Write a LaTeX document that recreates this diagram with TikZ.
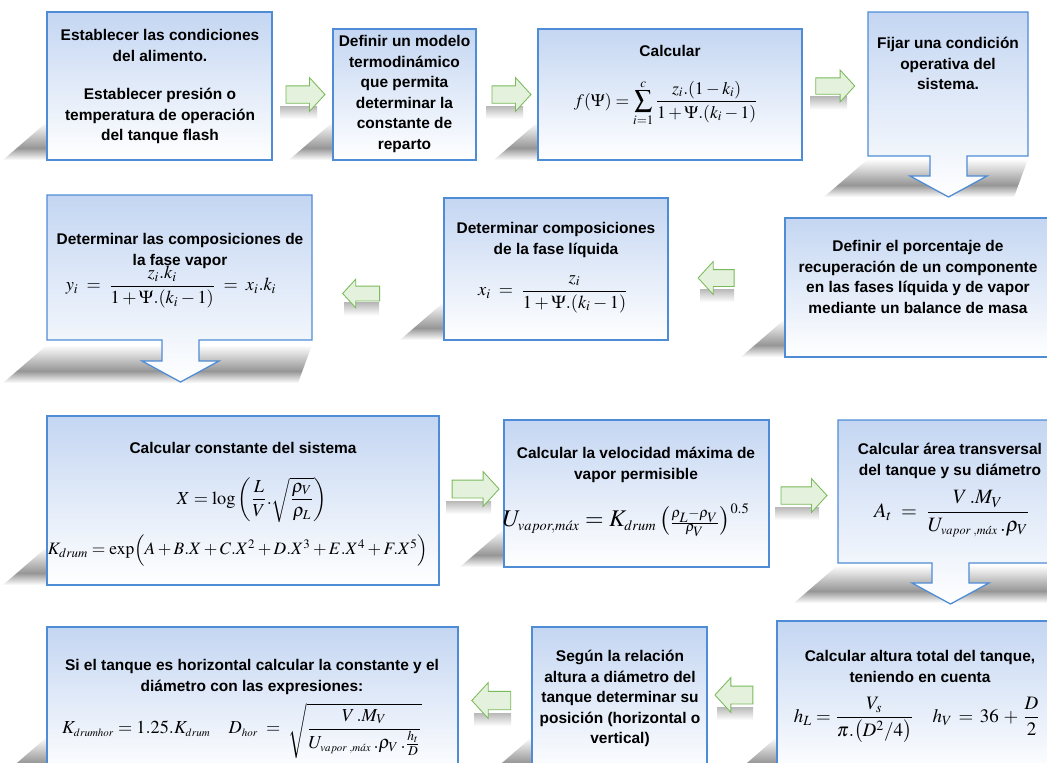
\documentclass[tikz,border=0pt]{standalone}
\usepackage{mathptmx}
\usepackage[no-math]{fontspec}
\setmainfont{Liberation Sans}
\usetikzlibrary{shapes.arrows}
\definecolor{BoxBlue}{RGB}{196,214,242}
\definecolor{BoxLine}{RGB}{79,140,214}
\definecolor{ArrowGreen}{RGB}{228,241,220}
\definecolor{ArrowLine}{RGB}{122,186,90}
\definecolor{ShadowGray}{RGB}{150,150,150}

\tikzset{
  procbox/.style={draw=BoxLine,line width=0.9pt,top color=BoxBlue,bottom color=white,inner sep=0pt},
  callout/.style={draw=BoxLine,line width=0.9pt,top color=BoxBlue,bottom color=white},
  shadowup/.style={top color=white,bottom color=ShadowGray},
  shadowdown/.style={top color=ShadowGray,bottom color=white},
  arrowshadow/.style={top color=black!28,bottom color=white},
  flowarrow/.style={single arrow,draw=ArrowLine,fill=ArrowGreen,line width=0.6pt,
    inner xsep=0pt,single arrow tip angle=95,single arrow head indent=0pt},
  proctext/.style={font=\fontsize{11}{14.6}\selectfont\bfseries,align=center,inner sep=0pt,anchor=north},
  formula/.style={inner sep=0pt,font=\fontsize{13}{15}\selectfont}
}

\begin{document}
\begin{tikzpicture}[x=0.025cm,y=-0.025cm]
  \clip (0,0) rectangle (1047,763);
  \fill[white] (0,0) rectangle (1047,763);

  % shadows
  \foreach \xa/\xb/\yb in {47/272/160,333/476/160,538/802/160,868/1028/197,
      47/312/383,444/668/340,785/1050/357,47/439/585,504/769/567,838/1062/603,
      47/458/775,532/707/775,777/1063/775}{
    \shade[shadowup] (\xa,\yb-38) -- (\xb,\yb-38) -- (\xb-9.6,\yb-12) -- (\xa-30.1,\yb-12) -- cycle;
    \shade[shadowdown] (\xa-30.1,\yb-12) -- (\xb-9.6,\yb-12) -- (\xb-14,\yb) -- (\xa-44,\yb) -- cycle;
  }

  % boxes
  \foreach \nm/\xa/\ya/\xb/\yb in {b1/47/12/272/160,b2/333/29/476/160,b3/538/29/802/160,
      b6/444/198/668/340,b7/785/218/1050/357,b8/47/416/439/585,b9/504/420/769/567,
      b11/47/627/458/775,b12/532/627/707/775,b13/777/621/1063/775}
    \node[procbox,minimum width={(\xb-\xa)*0.025cm},minimum height={(\yb-\ya)*0.025cm}]
      (\nm) at ({(\xa+\xb)/2},{(\ya+\yb)/2}) {};

  % boxes with a down arrow
  \foreach \nm/\xa/\ya/\xb/\yb/\cx/\yh in {b4/868/12/1028/156/948.5/176,
      b5/47/195/312/340/180.5/361,b10/838/420/1062/563/950.5/583}{
    \path[callout] (\xa,\ya) -- (\xb,\ya) -- (\xb,\yb) -- (\cx+18.5,\yb) -- (\cx+18.5,\yh)
      -- (\cx+38.5,\yh) -- (\cx,\yh+21) -- (\cx-38.5,\yh) -- (\cx-18.5,\yh)
      -- (\cx-18.5,\yb) -- (\xa,\yb) -- cycle;
    \coordinate (\nm) at ({(\xa+\xb)/2},{(\ya+\yb)/2});
  }

  % green arrows
  \foreach \nm/\cx/\cy/\len/\wid/\rot in {a1/301.5/94.5/39/33/0,a2/507.5/94.5/39/33/0,
      a3/831.5/86/39/31/0,a4/364.5/293.5/37/28/180,a5/720/278/36/32/180,
      a6/471.5/489/47/34/0,a7/800/495.5/46/33/0,a8/738/695/38/34/180,a9/495.5/700.5/39/35/180}{
    \shade[arrowshadow] (\cx-\len/2-2,\cy+\wid/2-5) rectangle (\cx+\len/2-4,\cy+\wid/2+8);
    \node[flowarrow,minimum height={\len*0.025cm},inner ysep={\wid*0.025cm/4},
      single arrow head extend={\wid*0.025cm/4},shape border rotate=\rot] (\nm) at (\cx,\cy) {};
  }

  % texts
  \node[proctext] (t1) at (160,29) {Establecer las condiciones\\del alimento.\\[13pt]Establecer presión o\\temperatura de operación\\del tanque flash};
  \node[proctext] (t2) at (404.5,35) {Definir un modelo\\termodinámico\\que permita\\determinar la\\constante de\\reparto};
  \node[proctext] (t3) at (670,45) {Calcular};
  \node[formula,font=\fontsize{12.5}{15}\selectfont] (f3) at (666,103) {$\displaystyle f(\Psi)=\sum_{i=1}^{c}\frac{z_{i}.(1-k_{i})}{1+\Psi.(k_{i}-1)}$};
  \node[proctext] (t4) at (948,37) {Fijar una condición\\operativa del\\sistema.};

  \node[proctext] (t5) at (180,233) {Determinar las composiciones de\\la fase vapor};
  \node[formula] (f5) at (171,287) {$\displaystyle y_{i}\;=\;\frac{z_{i}.k_{i}}{1+\Psi.(k_{i}-1)}\;=\;x_{i}.k_{i}$};
  \node[proctext] (t6) at (556,222) {Determinar composiciones\\de la fase líquida};
  \node[formula] (f6) at (553,294) {$\displaystyle x_{i}\;=\;\frac{z_{i}}{1+\Psi.(k_{i}-1)}$};
  \node[proctext] (t7) at (918,240) {Definir el porcentaje de\\recuperación de un componente\\en las fases líquida y de vapor\\mediante un balance de masa};

  \node[proctext] (t8) at (243,442) {Calcular constante del sistema};
  \node[formula] (f8a) at (252,500) {$\displaystyle X=\log\left(\frac{L}{V}.\sqrt{\frac{\rho_V}{\rho_L}}\right)$};
  \node[formula,font=\fontsize{12.4}{15}\selectfont] (f8b) at (238,550) {$K_{drum}=\exp\Bigl(A+B.X+C.X^{2}+D.X^{3}+E.X^{4}+F.X^{5}\Bigr)$};
  \node[proctext] (t9) at (636,447) {Calcular la velocidad máxima de\\vapor permisible};
  \node[formula,font=\fontsize{17}{20}\selectfont] (f9) at (626,520) {$U_{\scriptscriptstyle vapor,m\acute{a}x}=K_{\scriptscriptstyle drum}\left({\scriptscriptstyle\frac{\rho_L-\rho_V}{\rho_V}}\right)^{\scriptscriptstyle 0.5}$};
  \node[proctext] (t10) at (950,443) {Calcular área transversal\\del tanque y su diámetro};
  \node[formula,font=\fontsize{14.5}{17}\selectfont] (f10) at (952,514) {$\displaystyle A_{t}\;=\;\frac{V\,.M_{V}}{U_{\scriptscriptstyle vapor\;,m\acute{a}x}\,.\rho_{V}}$};

  \node[proctext] (t11) at (252,659) {Si el tanque es horizontal calcular la constante y el\\diámetro con las expresiones:};
  \node[formula] (f11) at (242,731) {$K_{\scriptscriptstyle drumhor}=1.25.K_{\scriptscriptstyle drum}\quad D_{\scriptscriptstyle hor}\;=\;\sqrt{\displaystyle\frac{V\,.M_{V}}{U_{\scriptscriptstyle vapor\;,m\acute{a}x}\,.\rho_{V}\,.\frac{h_{t}}{D}}}$};
  \node[proctext] (t12) at (620,650) {Según la relación\\altura a diámetro del\\tanque determinar su\\posición (horizontal o\\vertical)};
  \node[proctext] (t13) at (920,650) {Calcular altura total del tanque,\\teniendo en cuenta};
  \node[formula,font=\fontsize{13.5}{16}\selectfont] (f13) at (917,720) {$\displaystyle h_{L}=\frac{V_{s}}{\pi.\bigl(D^{2}/4\bigr)}\quad h_{V}\,=\,36\,+\,\frac{D}{2}$};
\end{tikzpicture}
\end{document}
